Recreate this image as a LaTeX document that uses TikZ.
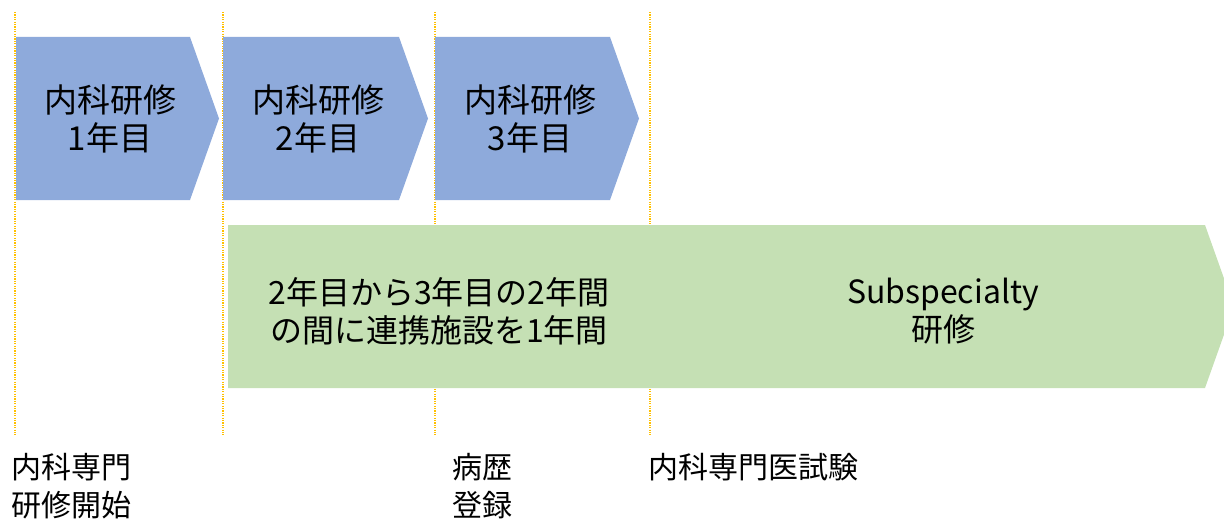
\documentclass[tikz,border=0pt]{standalone}
\usepackage{fontspec}
\setmainfont{Noto Sans CJK JP}
\usetikzlibrary{positioning}
\definecolor{blueF}{HTML}{8EAADB}
\definecolor{greenF}{HTML}{C5E0B4}
\definecolor{guide}{HTML}{FFC000}
\tikzset{
  x=1pt,y=-1pt,
  guideline/.style={draw=guide, line width=1.2pt, dash pattern=on 1.2pt off 1.2pt},
  lbl/.style={font=\fontsize{33}{38}\selectfont, align=center, inner sep=0pt, text=black},
  glbl/.style={font=\fontsize{32}{38}\selectfont, align=center, inner sep=0pt, text=black},
  botlbl/.style={font=\fontsize{30}{38}\selectfont, align=left, inner sep=0pt, anchor=north west, text=black},
}
\begin{document}
\begin{tikzpicture}
\useasboundingbox (0,0) rectangle (1224,524);
% guides
\foreach \gx/\nm in {15/ga,223/gb,435/gc,650/gd}{
  \coordinate (\nm t) at (\gx,12);
  \coordinate (\nm b) at (\gx,435);
  \draw[guideline] (\nm t) -- (\nm b);
}
% blue chevrons
\fill[blueF] (16,37) -- (190,37) -- (219,118.5) -- (190,200) -- (16,200) -- cycle;
\fill[blueF] (223,37) -- (399,37) -- (428,118.5) -- (399,200) -- (223,200) -- cycle;
\fill[blueF] (435,37) -- (610,37) -- (639,118.5) -- (610,200) -- (435,200) -- cycle;
% green band
\fill[greenF] (228,225) -- (1205,225) -- (1234,306.5) -- (1205,388) -- (228,388) -- cycle;
% texts
\node[lbl] (b1) at (110,119) {内科研修\\1年目};
\node[lbl] (b2) at (318,119) {内科研修\\2年目};
\node[lbl] (b3) at (530,119) {内科研修\\3年目};
\node[glbl] (g1) at (439,311) {2年目から3年目の2年間\\の間に連携施設を1年間};
\node[glbl] (g2) at (943,311) {Subspecialty\\研修};
\node[botlbl] (l1) at (11,453) {内科専門\\研修開始};
\node[botlbl] (l2) at (452,453) {病歴\\登録};
\node[botlbl] (l3) at (648,453) {内科専門医試験};
\end{tikzpicture}
\end{document}
